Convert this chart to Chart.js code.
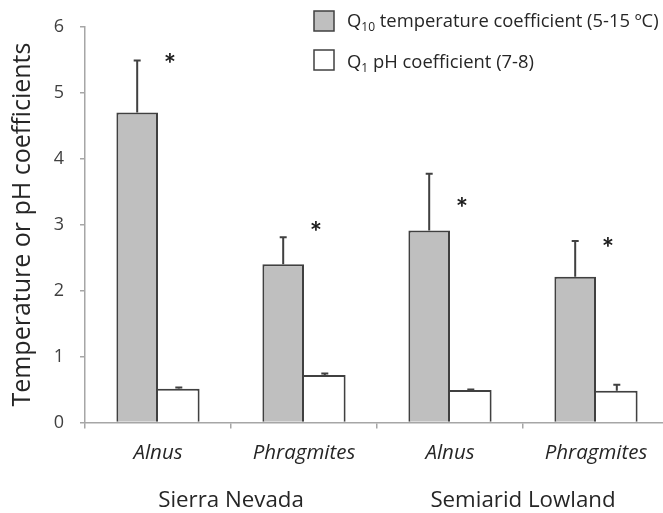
<!DOCTYPE html>
<html>
<head>
<meta charset="utf-8">
<script src="https://cdn.jsdelivr.net/npm/chart.js@4/dist/chart.umd.min.js"></script>
<style>
  html, body { margin: 0; padding: 0; background: #ffffff; overflow: hidden; }
  canvas { display: block; }
</style>
</head>
<body>
<canvas id="chart" width="670" height="513"></canvas>
<script>
// Species (x categories) and the two sites they are grouped under
const species = ['Alnus', 'Phragmites', 'Alnus', 'Phragmites'];
const sites = ['Sierra Nevada', 'Semiarid Lowland'];

// Q10 temperature coefficient (5-15 ºC): means and standard errors
const q10Values = [4.70, 2.40, 2.91, 2.21];
const q10Errors = [0.79, 0.41, 0.86, 0.54];

// Q1 pH coefficient (7-8): means and standard errors
const q1Values = [0.51, 0.72, 0.49, 0.48];
const q1Errors = [0.02, 0.02, 0.01, 0.09];

// Height of the significance asterisk above each species pair
const sigMarkY = [5.52, 2.98, 3.34, 2.74];

// Y axis range
const yMin = 0;
const yMax = 6;
const yStep = 1;

// Legend text split around the subscript
const legendParts = [
  { base: 'Q', sub: '10', rest: ' temperature coefficient (5-15 ºC)' },
  { base: 'Q', sub: '1', rest: ' pH coefficient (7-8)' }
];

const FONT = '"Open Sans", Lato, sans-serif';
const TEXT = '#262626';
const AXIS = '#a6a6a6';
const EDGE = '#404040';
const GREY = '#bfbfbf';

const errorBars = {
  id: 'errorBars',
  afterDatasetsDraw(chart) {
    const ctx = chart.ctx;
    const y = chart.scales.y;
    const errs = [q10Errors, q1Errors];
    const vals = [q10Values, q1Values];
    ctx.save();
    ctx.strokeStyle = EDGE;
    ctx.lineWidth = 2;
    chart.data.datasets.forEach((ds, di) => {
      chart.getDatasetMeta(di).data.forEach((bar, i) => {
        const top = y.getPixelForValue(vals[di][i] + errs[di][i]);
        ctx.beginPath();
        ctx.moveTo(bar.x, bar.y);
        ctx.lineTo(bar.x, top);
        ctx.moveTo(bar.x - 3.5, top);
        ctx.lineTo(bar.x + 3.5, top);
        ctx.stroke();
      });
    });
    ctx.restore();
  }
};

const sigMarks = {
  id: 'sigMarks',
  afterDatasetsDraw(chart) {
    const ctx = chart.ctx;
    const x = chart.scales.x;
    const y = chart.scales.y;
    ctx.save();
    ctx.fillStyle = '#1a1a1a';
    ctx.font = 'bold 29px Lato, sans-serif';
    ctx.textAlign = 'center';
    ctx.textBaseline = 'alphabetic';
    const m = ctx.measureText('*');
    const shift = (m.actualBoundingBoxAscent - m.actualBoundingBoxDescent) / 2;
    sigMarkY.forEach((v, i) => {
      const cx = x.getPixelForValue(i) + 12;
      const cy = y.getPixelForValue(v);
      ctx.fillText('*', cx, cy + shift);
    });
    ctx.restore();
  }
};

const siteLabels = {
  id: 'siteLabels',
  afterDraw(chart) {
    const ctx = chart.ctx;
    const x = chart.scales.x;
    ctx.save();
    ctx.fillStyle = TEXT;
    ctx.font = '22.3px ' + FONT;
    ctx.textAlign = 'center';
    ctx.textBaseline = 'alphabetic';
    sites.forEach((s, g) => {
      const cx = (x.getPixelForValue(2 * g) + x.getPixelForValue(2 * g + 1)) / 2;
      ctx.fillText(s, cx, 506.5);
    });
    ctx.restore();
  }
};

const subLegend = {
  id: 'subLegend',
  afterDraw(chart) {
    const ctx = chart.ctx;
    const rows = [
      { fill: GREY, boxTop: 11, baseline: 27 },
      { fill: '#ffffff', boxTop: 50, baseline: 68 }
    ];
    ctx.save();
    rows.forEach((r, i) => {
      const p = legendParts[i];
      ctx.fillStyle = r.fill;
      ctx.fillRect(314, r.boxTop, 20, 20);
      ctx.strokeStyle = EDGE;
      ctx.lineWidth = 1.5;
      ctx.strokeRect(314, r.boxTop, 20, 20);

      ctx.fillStyle = TEXT;
      ctx.textAlign = 'left';
      ctx.textBaseline = 'alphabetic';
      let tx = 347;
      ctx.font = '18.4px ' + FONT;
      ctx.fillText(p.base, tx, r.baseline);
      tx += ctx.measureText(p.base).width;
      ctx.font = '12px ' + FONT;
      ctx.fillText(p.sub, tx, r.baseline + 4);
      tx += ctx.measureText(p.sub).width;
      ctx.font = '18.4px ' + FONT;
      ctx.fillText(p.rest, tx, r.baseline);
    });
    ctx.restore();
  }
};

new Chart(document.getElementById('chart'), {
  type: 'bar',
  data: {
    labels: species,
    datasets: [
      {
        label: 'Q10 temperature coefficient (5-15 ºC)',
        data: q10Values,
        backgroundColor: GREY,
        borderColor: EDGE,
        borderWidth: { top: 2, left: 2, right: 2, bottom: 0 },
        borderSkipped: 'start'
      },
      {
        label: 'Q1 pH coefficient (7-8)',
        data: q1Values,
        backgroundColor: '#ffffff',
        borderColor: EDGE,
        borderWidth: { top: 2, left: 0, right: 2, bottom: 0 },
        borderSkipped: 'start'
      }
    ]
  },
  options: {
    responsive: false,
    animation: false,
    devicePixelRatio: 1,
    layout: { padding: { top: 18, right: 1, left: 0, bottom: 0 } },
    categoryPercentage: 0.57,
    barPercentage: 1,
    plugins: {
      legend: { display: false },
      tooltip: { enabled: false }
    },
    scales: {
      x: {
        grid: {
          offset: true,
          drawOnChartArea: false,
          drawTicks: true,
          tickLength: 6,
          color: AXIS,
          lineWidth: 1.5
        },
        border: { display: true, color: AXIS, width: 1.5 },
        ticks: {
          color: TEXT,
          font: { family: FONT, size: 20.5, style: 'italic' },
          padding: 12,
          maxRotation: 0
        },
        afterFit(scale) { scale.height = 90.6; }
      },
      y: {
        min: yMin,
        max: yMax,
        grid: {
          drawOnChartArea: false,
          drawTicks: true,
          tickLength: 5,
          color: AXIS,
          lineWidth: 1.5
        },
        border: { display: true, color: AXIS, width: 1.5 },
        ticks: {
          stepSize: yStep,
          color: '#404040',
          font: { family: FONT, size: 18 },
          padding: 16
        },
        title: {
          display: true,
          text: 'Temperature or pH coefficients',
          color: TEXT,
          font: { family: FONT, size: 25 },
          padding: { top: 8, bottom: 0 }
        },
        afterFit(scale) { scale.width = 85; }
      }
    }
  },
  plugins: [errorBars, sigMarks, siteLabels, subLegend]
});
</script>
</body>
</html>
